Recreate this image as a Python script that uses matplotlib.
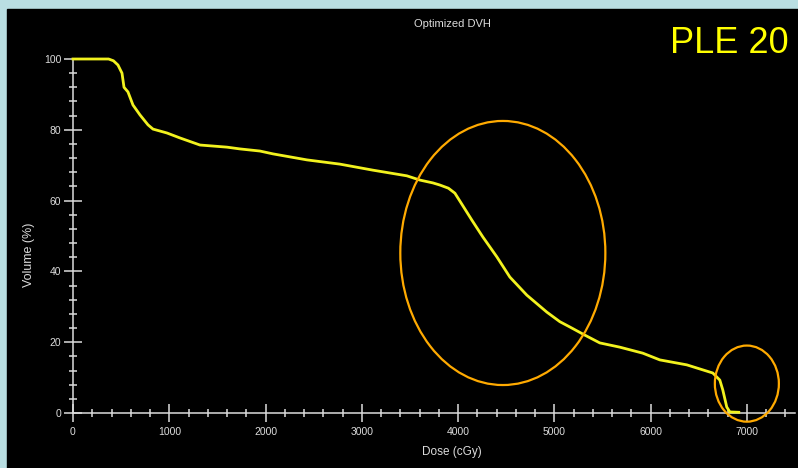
import matplotlib
matplotlib.use("Agg")
import matplotlib.pyplot as plt
from matplotlib.patches import Ellipse, Rectangle
from matplotlib.ticker import MultipleLocator

plt.rcParams['font.family'] = ['Liberation Sans', 'DejaVu Sans']

# Cumulative DVH: dose (cGy) vs structure volume (%)
dose = [0, 370, 420, 467, 509, 530, 571, 623, 696, 779, 831, 976, 1111, 1319,
        1599, 1734, 1942, 2077, 2430, 2773, 3115, 3468, 3603, 3738, 3811, 3900,
        3967, 4039, 4143, 4258, 4403, 4538, 4714, 4922, 5057, 5161, 5317, 5472,
        5680, 5919, 6096, 6376, 6646, 6719, 6750, 6791, 6823, 6916]
volume = [100, 100, 99.5, 98.3, 96, 92, 90.7, 87, 84.2, 81.4, 80.2, 79.1, 77.7,
          75.7, 75.1, 74.6, 74.0, 73.2, 71.5, 70.3, 68.6, 67.0, 65.8, 65.0, 64.4,
          63.5, 62.1, 59.0, 54.5, 49.7, 44.1, 38.4, 33.3, 28.5, 25.8, 24.3, 22.0,
          19.8, 18.6, 16.9, 15.0, 13.6, 11.3, 9.3, 6.5, 1.7, 0.3, 0.2]

x_major = [0, 1000, 2000, 3000, 4000, 5000, 6000, 7000]
y_major = [0, 20, 40, 60, 80, 100]

# Highlighted regions: (center dose, center volume, width, height)
highlights = [(4465, 45.2, 2130, 74.6), (7000, 8.3, 665, 21.5)]

fg = '#dcdcdc'
fig = plt.figure(figsize=(7.98, 4.68), dpi=100, facecolor='#b9dee2')
fig.add_artist(Rectangle((7 / 798, 0), 791 / 798, 459 / 468,
                         transform=fig.transFigure, color='black', zorder=0))

ax = fig.add_axes([73 / 798, 55 / 468, 722 / 798, 354 / 468])
ax.set_facecolor('none')
ax.set_xlim(0, 7500)
ax.set_ylim(0, 100)

ax.plot(dose, volume, color='#f2f21e', lw=2.0, clip_on=False, zorder=3)

for cx, cy, w, h in highlights:
    ax.add_patch(Ellipse((cx, cy), w, h, fill=False, edgecolor='#ffaa00',
                         lw=1.6, clip_on=False, zorder=4))

for s in ('top', 'right'):
    ax.spines[s].set_visible(False)
for s in ('left', 'bottom'):
    ax.spines[s].set_color(fg)
    ax.spines[s].set_linewidth(1.1)
ax.spines['left'].set_bounds(0, 100)

ax.set_xticks(x_major)
ax.set_yticks(y_major)
ax.xaxis.set_minor_locator(MultipleLocator(200))
ax.yaxis.set_minor_locator(MultipleLocator(4))
ax.tick_params(which='major', direction='inout', length=13, width=1.1,
               color=fg, labelcolor=fg, labelsize=7.5, pad=2)
ax.tick_params(axis='x', which='major', pad=3.5)
ax.tick_params(which='minor', direction='inout', length=6, width=1.1, color=fg)

ax.set_xlabel('Dose (cGy)', color=fg, fontsize=8.5)
ax.xaxis.set_label_coords(0.525, -0.094)
ax.set_ylabel('Volume (%)', color=fg, fontsize=9)
ax.yaxis.set_label_coords(-0.053, 0.446)
ax.set_title('Optimized DVH', color=fg, fontsize=8, x=0.525, y=1.068)

fig.text(670 / 798, (468 - 53) / 468, 'PLE 20', color='#ffff00',
         fontsize=26, ha='left', va='baseline')

fig.savefig('out.png', dpi=100, facecolor=fig.get_facecolor())
